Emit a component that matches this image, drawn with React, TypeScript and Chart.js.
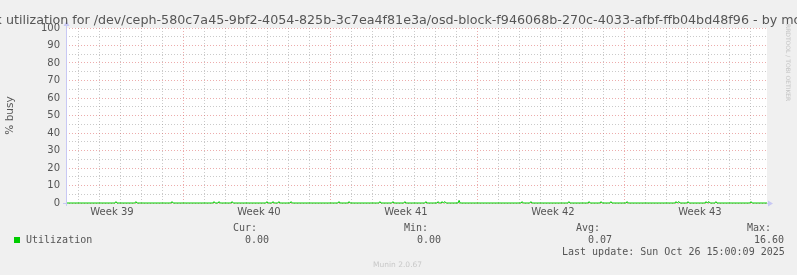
import React, { useEffect, useRef } from "react";
import { Chart, registerables } from "chart.js";

Chart.register(...registerables);

// ---------- data ----------
const titleText =
  "Disk utilization for /dev/ceph-580c7a45-9bf2-4054-825b-3c7ea4f81e3a/osd-block-f946068b-270c-4033-afbf-ffb04bd48f96 - by month";
const yAxisTitle = "% busy";
const seriesName = "Utilization";

// x axis unit: days since Mon 22 Sep 2025 00:00 (start of week 39)
const xStartDay = 1.381;
const xEndDay = 34.762;
const weekLabels = ["Week 39", "Week 40", "Week 41", "Week 42", "Week 43"];
const weekLabelDays = [3.57, 10.57, 17.57, 24.57, 31.57];
const yTickValues = [0, 5, 10, 15, 20, 25, 30, 35, 40, 45, 50, 55, 60, 65, 70, 75, 80, 85, 90, 95, 100];

// small bursts of utilization (day, % busy); everything else is 0
const spikeDays = [
  3.76, 4.71, 6.43, 8.43, 8.67, 9.29, 10.95, 11.24, 11.52, 12.1, 14.38, 14.86, 16.33, 16.95, 17.52,
  18.52, 19.1, 19.29, 19.43, 20.1, 23.1, 23.52, 25.33, 26.29, 26.86, 27.33, 28.1, 30.43, 30.57, 31.0,
  31.86, 32.0, 32.33, 34.0,
];
const spikeValues = [
  0.8, 0.8, 0.8, 0.8, 0.8, 0.8, 0.8, 0.8, 0.8, 0.8, 0.8, 0.8, 0.8, 0.8, 0.8,
  0.8, 0.8, 0.8, 0.8, 1.5, 0.8, 0.8, 0.8, 0.8, 0.8, 0.8, 0.8, 0.8, 0.8, 0.8,
  0.8, 0.8, 0.8, 0.8,
];

const statLabels = ["Cur:", "Min:", "Avg:", "Max:"];
const statValues = ["0.00", "0.00", "0.07", "16.60"];
const lastUpdate = "Last update: Sun Oct 26 15:00:09 2025";
const footer = "Munin 2.0.67";
const watermark = "RRDTOOL / TOBI OETIKER";

// ---------- styles ----------
const BG = "#f0f0f0";
const GREEN = "#00cc00";
const RED_GRID = "rgba(220, 90, 90, 0.5)";
const GRAY_GRID = "rgba(150, 150, 150, 0.5)";
const AXIS = "#c8c8f4";
const TEXT = "#555555";
const SANS = "'DejaVu Sans', sans-serif";
const MONO = "'DejaVu Sans Mono', monospace";

const statLabelX = [233, 404, 576, 747];
const statValueX = [245, 417, 588, 754];

const plotDecor = {
  id: "plotDecor",
  beforeDraw(chart: any) {
    const { ctx, chartArea: a } = chart;
    ctx.save();
    ctx.fillStyle = "#ffffff";
    ctx.fillRect(a.left, a.top, a.right - a.left, a.bottom - a.top);
    ctx.restore();
  },
  afterDraw(chart: any) {
    const { ctx, chartArea: a } = chart;
    ctx.save();
    ctx.strokeStyle = AXIS;
    ctx.fillStyle = AXIS;
    ctx.lineWidth = 1;
    const lx = Math.round(a.left) + 0.5;
    const by = Math.round(a.bottom) + 0.5;
    ctx.beginPath();
    ctx.moveTo(lx, a.bottom + 3);
    ctx.lineTo(lx, a.top - 4);
    ctx.moveTo(a.left - 3, by);
    ctx.lineTo(a.left, by);
    ctx.moveTo(a.right, by);
    ctx.lineTo(a.right + 2, by);
    ctx.stroke();
    // up arrow
    ctx.beginPath();
    ctx.moveTo(lx - 3, a.top - 2);
    ctx.lineTo(lx + 3, a.top - 2);
    ctx.lineTo(lx, a.top - 7);
    ctx.closePath();
    ctx.fill();
    // right arrow
    ctx.beginPath();
    ctx.moveTo(a.right + 1, by - 3);
    ctx.lineTo(a.right + 1, by + 3);
    ctx.lineTo(a.right + 6, by);
    ctx.closePath();
    ctx.fill();
    ctx.restore();
  },
};

export default function App() {
  const canvasRef = useRef<HTMLCanvasElement | null>(null);

  useEffect(() => {
    const canvas = canvasRef.current;
    if (!canvas) return;
    const points: { x: number; y: number }[] = [{ x: xStartDay, y: 0 }];
    spikeDays.forEach((d, i) => {
      points.push({ x: d - 0.05, y: 0 }, { x: d, y: spikeValues[i] }, { x: d + 0.05, y: 0 });
    });
    points.push({ x: xEndDay, y: 0 });

    const dayTicks: number[] = [];
    for (let d = Math.ceil(xStartDay); d <= xEndDay; d++) dayTicks.push(d);

    const chart = new Chart(canvas, {
      type: "line",
      data: {
        datasets: [
          {
            label: seriesName,
            data: points,
            borderColor: GREEN,
            borderWidth: 1,
            pointRadius: 0,
            tension: 0,
            fill: false,
            clip: false as any,
          },
        ],
      },
      options: {
        animation: false,
        responsive: false,
        maintainAspectRatio: false,
        layout: { padding: { top: 28, right: 30, bottom: 52, left: 0 } },
        plugins: {
          legend: { display: false },
          tooltip: { enabled: false },
          title: { display: false },
        },
        scales: {
          x: {
            type: "linear",
            position: "bottom",
            weight: 0,
            min: xStartDay,
            max: xEndDay,
            afterBuildTicks: (s: any) => {
              s.ticks = dayTicks.map((v) => ({ value: v }));
            },
            afterFit: (s: any) => {
              s.height = 0;
            },
            ticks: { display: false },
            grid: {
              color: (c: any) => (c.tick && c.tick.value % 7 === 0 ? RED_GRID : GRAY_GRID),
              drawTicks: false,
              lineWidth: 1,
            },
            border: { display: false, dash: [1, 2] },
          },
          xw: {
            type: "linear",
            position: "bottom",
            weight: 1,
            min: xStartDay,
            max: xEndDay,
            afterBuildTicks: (s: any) => {
              s.ticks = weekLabelDays.map((v) => ({ value: v }));
            },
            afterFit: (s: any) => {
              s.height = 20;
            },
            ticks: {
              autoSkip: false,
              maxRotation: 0,
              padding: 3,
              color: TEXT,
              font: { family: SANS, size: 10 },
              callback: (_v: any, i: number) => weekLabels[i],
            },
            grid: { display: false, drawTicks: false },
            border: { display: false },
          },
          y: {
            type: "linear",
            min: 0,
            max: 100,
            afterBuildTicks: (s: any) => {
              s.ticks = yTickValues.map((v) => ({ value: v }));
            },
            afterFit: (s: any) => {
              s.width = 66;
            },
            ticks: {
              autoSkip: false,
              padding: 6,
              color: TEXT,
              font: { family: SANS, size: 10 },
              callback: (v: any) => (Number(v) % 10 === 0 ? String(v) : ""),
            },
            grid: {
              color: (c: any) => (c.tick && c.tick.value % 10 === 0 ? RED_GRID : GRAY_GRID),
              drawTicks: false,
              lineWidth: 1,
            },
            border: { display: false, dash: [1, 2] },
            title: {
              display: true,
              text: yAxisTitle,
              color: TEXT,
              font: { family: SANS, size: 10.5 },
              padding: { top: 4, bottom: 0 },
            },
          },
        },
      },
      plugins: [plotDecor],
    } as any);
    return () => chart.destroy();
  }, []);

  const abs = (left: number, top: number, extra: React.CSSProperties = {}): React.CSSProperties => ({
    position: "absolute",
    left,
    top,
    whiteSpace: "pre",
    fontFamily: MONO,
    fontSize: 10,
    lineHeight: "10px",
    color: TEXT,
    ...extra,
  });

  return (
    <div
      style={{
        position: "fixed",
        left: 0,
        top: 0,
        width: 797,
        height: 275,
        background: BG,
        overflow: "hidden",
      }}
    >
      <canvas ref={canvasRef} width={797} height={275} style={{ position: "absolute", left: 0, top: 0 }} />
      <div
        style={{
          position: "absolute",
          left: 0,
          top: 12,
          width: 797,
          display: "flex",
          justifyContent: "center",
          whiteSpace: "nowrap",
          fontFamily: SANS,
          fontSize: 12.7,
          lineHeight: "normal",
          color: TEXT,
        }}
      >
        <span>{titleText}</span>
      </div>
      <div
        style={{
          position: "absolute",
          left: 784,
          top: 24,
          writingMode: "vertical-rl",
          whiteSpace: "nowrap",
          fontFamily: SANS,
          fontSize: 6,
          lineHeight: "8px",
          color: "#c4c4c4",
        }}
      >
        {watermark}
      </div>
      <div style={{ position: "absolute", left: 14, top: 237, width: 6, height: 6, background: GREEN }} />
      <div style={abs(26, 235)}>{seriesName}</div>
      {statLabels.map((s, i) => (
        <div key={"l" + i} style={abs(statLabelX[i], 223)}>
          {s}
        </div>
      ))}
      {statValues.map((s, i) => (
        <div key={"v" + i} style={abs(statValueX[i], 235)}>
          {s}
        </div>
      ))}
      <div style={abs(562, 246.5)}>{lastUpdate}</div>
      <div
        style={abs(373, 260.5, {
          fontFamily: SANS,
          fontSize: 7.5,
          lineHeight: "8px",
          color: "#c8c8c8",
        })}
      >
        {footer}
      </div>
    </div>
  );
}
